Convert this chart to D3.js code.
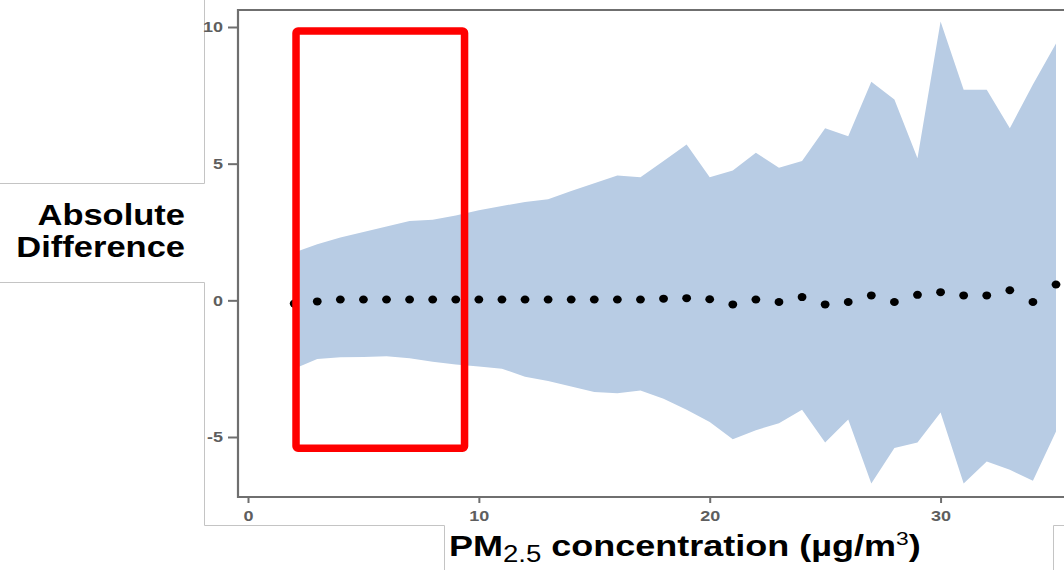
<!DOCTYPE html>
<html>
<head>
<meta charset="utf-8">
<script src="https://cdn.jsdelivr.net/npm/d3@7"></script>
<style>
  html, body { margin: 0; padding: 0; background: #fff; }
  svg { display: block; font-family: "Liberation Sans", Arial, sans-serif; }
</style>
</head>
<body>
<svg id="chart" width="1064" height="570"></svg>
<script>
// PM2.5 concentration (x) vs absolute difference: point estimate + interval band
const pm = d3.range(2, 36);
const diff = [-0.12, -0.04, 0.03, 0.03, 0.03, 0.03, 0.03, 0.03, 0.03, 0.03,
  0.03, 0.03, 0.03, 0.03, 0.03, 0.03, 0.06, 0.08, 0.04, -0.15,
  0.03, -0.06, 0.12, -0.15, -0.06, 0.18, -0.06, 0.2, 0.3, 0.18,
  0.18, 0.37, -0.06, 0.58];
const upper = [1.75, 2.05, 2.3, 2.5, 2.7, 2.9, 2.95, 3.1, 3.3, 3.45,
  3.6, 3.7, 4.0, 4.28, 4.57, 4.5, 5.1, 5.7, 4.5, 4.75,
  5.4, 4.85, 5.1, 6.3, 6.0, 8.0, 7.35, 5.2, 10.2, 7.7,
  7.7, 6.3, 7.9, 9.4];
const lower = [-2.5, -2.15, -2.08, -2.07, -2.05, -2.12, -2.25, -2.35, -2.42, -2.5,
  -2.8, -2.95, -3.15, -3.35, -3.4, -3.3, -3.6, -4.0, -4.45, -5.08,
  -4.75, -4.5, -4.0, -5.2, -4.36, -6.7, -5.4, -5.2, -4.1, -6.7,
  -5.9, -6.2, -6.6, -4.8];
const xTicks = [0, 10, 20, 30];
const yTicks = [-5, 0, 5, 10];
// highlighted region (data units)
const highlight = { x0: 2.08, x1: 9.38, y0: -5.41, y1: 9.85 };

const data = pm.map((p, i) => ({ p, d: diff[i], lo: lower[i], hi: upper[i] }));

const svg = d3.select("#chart");
const frame = { left: 238, top: 10, right: 1066, bottom: 497 };
const stretch = 1.2; // the slide picture is stretched horizontally

const x = d3.scaleLinear().domain([0, 35]).range([248, 1056]);
const y = d3.scaleLinear().domain([-5, 10]).range([437, 27]);

// slide object borders (light gray)
const border = "#c4c4c4";
const bl = [
  [[204.5, 0], [204.5, 183.5], [0, 183.5]],
  [[0, 282.5], [204.5, 282.5], [204.5, 525.5], [444.5, 525.5], [444.5, 570]],
  [[1053.5, 570], [1053.5, 525.5], [1064, 525.5]]
];
bl.forEach(pts => svg.append("path")
  .attr("d", d3.line()(pts))
  .attr("fill", "none").attr("stroke", border).attr("stroke-width", 1));

// band
svg.append("path")
  .datum(data)
  .attr("fill", "#b8cce4")
  .attr("d", d3.area().x(d => x(d.p)).y0(d => y(d.lo)).y1(d => y(d.hi)));

// frame
svg.append("path")
  .attr("d", `M${frame.right},${frame.top}H${frame.left}V${frame.bottom}H${frame.right}`)
  .attr("fill", "none").attr("stroke", "#6f6f6f").attr("stroke-width", 2.2);

// axes
const yAxis = svg.append("g").attr("transform", `translate(${frame.left},0)`)
  .call(d3.axisLeft(y).tickValues(yTicks).tickSize(10).tickPadding(2.5));
const xAxis = svg.append("g").attr("transform", `translate(0,${frame.bottom})`)
  .call(d3.axisBottom(x).tickValues(xTicks).tickSize(6).tickPadding(7));
[yAxis, xAxis].forEach(a => {
  a.select(".domain").remove();
  a.selectAll(".tick line").attr("stroke", "#6f6f6f").attr("stroke-width", 2);
  a.selectAll(".tick text")
    .style("font-family", "'Liberation Sans', Arial, sans-serif")
    .style("font-size", "15px").style("font-weight", "bold").style("fill", "#5e5e5e")
    .attr("transform", `scale(${stretch},1)`);
});
yAxis.selectAll(".tick text").text(d => d < 0 ? "-" + Math.abs(d) : d);

// points
svg.append("g").selectAll("ellipse").data(data).enter().append("ellipse")
  .attr("cx", d => x(d.p)).attr("cy", d => y(d.d))
  .attr("rx", 4.4).attr("ry", 4).attr("fill", "#000");

// red highlight box
svg.append("rect")
  .attr("x", x(highlight.x0)).attr("y", y(highlight.y1))
  .attr("width", x(highlight.x1) - x(highlight.x0))
  .attr("height", y(highlight.y0) - y(highlight.y1))
  .attr("rx", 2)
  .attr("fill", "none").attr("stroke", "#ff0000").attr("stroke-width", 7.5);

// y title
const yt = svg.append("g").attr("transform", "translate(185,0) scale(1.15,1)")
  .append("text")
  .attr("text-anchor", "end")
  .style("font-size", "30px").style("font-weight", "bold").style("fill", "#000");
yt.append("tspan").attr("x", 0).attr("y", 225).text("Absolute");
yt.append("tspan").attr("x", 0).attr("y", 257).text("Difference");

// x title
const xt = svg.append("g").attr("transform", `translate(449,556) scale(${stretch},1)`)
  .append("text")
  .style("font-size", "30px").style("font-weight", "bold").style("fill", "#000");
xt.append("tspan").text("PM");
xt.append("tspan").attr("dy", 6).style("font-size", "23px").style("font-weight", "normal").text("2.5");
xt.append("tspan").attr("dy", -6).text(" concentration (\u00b5g/m");
xt.append("tspan").attr("dy", -11).style("font-size", "19px").style("font-weight", "normal").text("3");
xt.append("tspan").attr("dy", 11).text(")");
</script>
</body>
</html>
